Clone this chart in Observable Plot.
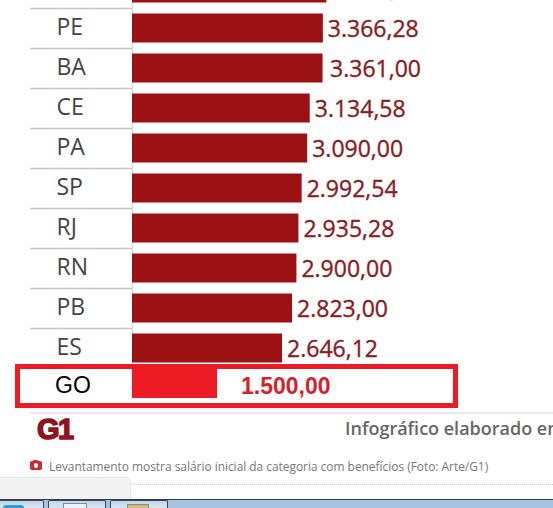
<!DOCTYPE html>
<html><head><meta charset="utf-8">
<script src="https://cdn.jsdelivr.net/npm/d3@7"></script>
<script src="https://cdn.jsdelivr.net/npm/@observablehq/plot@0.6"></script>
<style>
html,body{margin:0;padding:0;background:#fff;overflow:hidden}
#wrap{position:relative;width:553px;height:508px;overflow:hidden;background:#fff}
#wrap svg{position:absolute;left:0;top:0}
.a{position:absolute}
.btn{position:absolute;top:500px;height:8px;background:linear-gradient(#c4d5e8,#dbe6f1);border:1px solid #33465a;border-bottom:0;box-sizing:border-box;border-radius:2px 2px 0 0}
</style></head><body><div id="wrap"></div>
<script>
const states = ["", "PE", "BA", "CE", "PA", "SP", "RJ", "RN", "PB", "ES", "GO"];
const salaries = [3427.46, 3366.28, 3361.00, 3134.58, 3090.00, 2992.54, 2935.28, 2900.00, 2823.00, 2646.12, 1500.00];
const valueLabels = ["3.427,46", "3.366,28", "3.361,00", "3.134,58", "3.090,00", "2.992,54", "2.935,28", "2.900,00", "2.823,00", "2.646,12", "1.500,00"];
const rows = states.map((s, i) => ({state: s, key: i, value: salaries[i], label: valueLabels[i]}));
const main = rows.filter(d => d.state !== "GO");
const go = rows.filter(d => d.state === "GO");
const ba = rows.filter(d => d.state === "BA");
const others = main.filter(d => d.state !== "BA");
const body = '"Open Sans", "Noto Sans", sans-serif';

const chart = Plot.plot({
  width: 553, height: 508, marginLeft: 132, marginRight: 0, marginTop: 0, marginBottom: 0,
  style: {background: "transparent"},
  x: {domain: [0, 7425], axis: null},
  y: {type: "band", domain: rows.map(d => d.key), range: [-32, 408], padding: 0, axis: null},
  marks: [
    Plot.axisY(rows.map(d => d.key), {anchor: "left", label: null, tickSize: 102, dy: -20, stroke: "#c4c4c4", strokeWidth: 1.5, tickFormat: () => "", filter: d => d > 0 && d < 10}),
    Plot.ruleX([0], {stroke: "#e6cfcf", y1: 0, y2: 9}),
    Plot.barX(main, {x: "value", y: "key", fill: "#9c1113", insetTop: 5.5, insetBottom: 5.5}),
    Plot.barX(go, {x: "value", y: "key", fill: "#ed1c24", insetTop: 5.5, insetBottom: 5.5, dy: -4.5}),
    Plot.text(main, {x: 0, y: "key", text: "state", dx: -76, dy: -1, textAnchor: "start", fontFamily: body, fontSize: 23, fill: "#444"}),
    Plot.text(go, {x: 0, y: "key", text: "state", dx: -77.5, dy: -2.5, textAnchor: "start", fontFamily: "Liberation Sans", fontSize: 23, fill: "#000"}),
    Plot.text(others, {x: "value", y: "key", text: "label", dx: 4.5, dy: 1, textAnchor: "start", fontFamily: body, fontSize: 23, fill: "#8c1a1e", stroke: "#8c1a1e", strokeWidth: 0.35}),
    Plot.text(ba, {x: "value", y: "key", text: "label", dx: 7, dy: 1, textAnchor: "start", fontFamily: body, fontSize: 23, fill: "#8c1a1e", stroke: "#8c1a1e", strokeWidth: 0.35}),
    Plot.text(go, {x: "value", y: "key", text: "label", dx: 23.5, dy: -2, textAnchor: "start", fontFamily: "Liberation Sans", fontWeight: "bold", fontSize: 23, fill: "#d81e28"})
  ]
});
const w = document.getElementById("wrap");
w.appendChild(chart);
const html = `
<div class="a" style="left:15px;top:364px;width:433px;height:34px;border:5px solid #ed1c24"></div>
<div class="a" style="left:30px;top:412px;width:523px;height:2px;background:#e9e9e9"></div>
<div class="a" style="left:37px;top:413px;font:900 29px 'Liberation Sans';letter-spacing:-1.5px;color:#8f141b;-webkit-text-stroke:1.5px #8f141b">G1</div>
<div class="a" style="left:345px;top:416px;white-space:nowrap;font:600 18px 'Open Sans';color:#666">Infográfico elaborado em</div>
<div class="a" style="left:30px;top:461px;width:11.5px;height:9px;background:#cf2a2a;border-radius:2px"></div>
<div class="a" style="left:33px;top:459.5px;width:5px;height:3px;background:#cf2a2a;border-radius:1px"></div>
<div class="a" style="left:33.5px;top:463px;width:4.5px;height:4.5px;background:#fff;border-radius:50%"></div>
<div class="a" style="left:49px;top:458px;white-space:nowrap;font:11.9px 'Open Sans';color:#777">Levantamento mostra salário inicial da categoria com benefícios (Foto: Arte/G1)</div>
<div class="a" style="left:132px;top:484px;width:421px;border-top:1px dotted #c8c8c8"></div>
<div class="a" style="left:0;top:477px;width:131px;height:23px;background:#f3f3f3;border-right:1px solid #e6e6e6;border-top:1px solid #e6e6e6;box-sizing:border-box;border-radius:0 5px 0 0"></div>
<div class="a" style="left:0;top:499px;width:553px;height:9px;background:#a8c2de;border-top:1px solid #2c3e50;box-sizing:border-box"></div>
<div class="btn" style="left:-2px;width:46px"></div>
<div class="btn" style="left:48px;width:58px"></div>
<div class="btn" style="left:110px;width:58px"></div>
<div class="a" style="left:3px;top:505px;width:21px;height:3px;background:#2b9be0;border-radius:10px 10px 0 0"></div>
<div class="a" style="left:63px;top:503px;width:24px;height:5px;background:#eef2f6;border:1px solid #7f8c99;border-bottom:0;box-sizing:border-box"></div>
<div class="a" style="left:127px;top:504px;width:22px;height:4px;background:#cdbb82;border:1px solid #8f8f78;border-bottom:0;box-sizing:border-box"></div>`;
w.insertAdjacentHTML("beforeend", html);
</script></body></html>
